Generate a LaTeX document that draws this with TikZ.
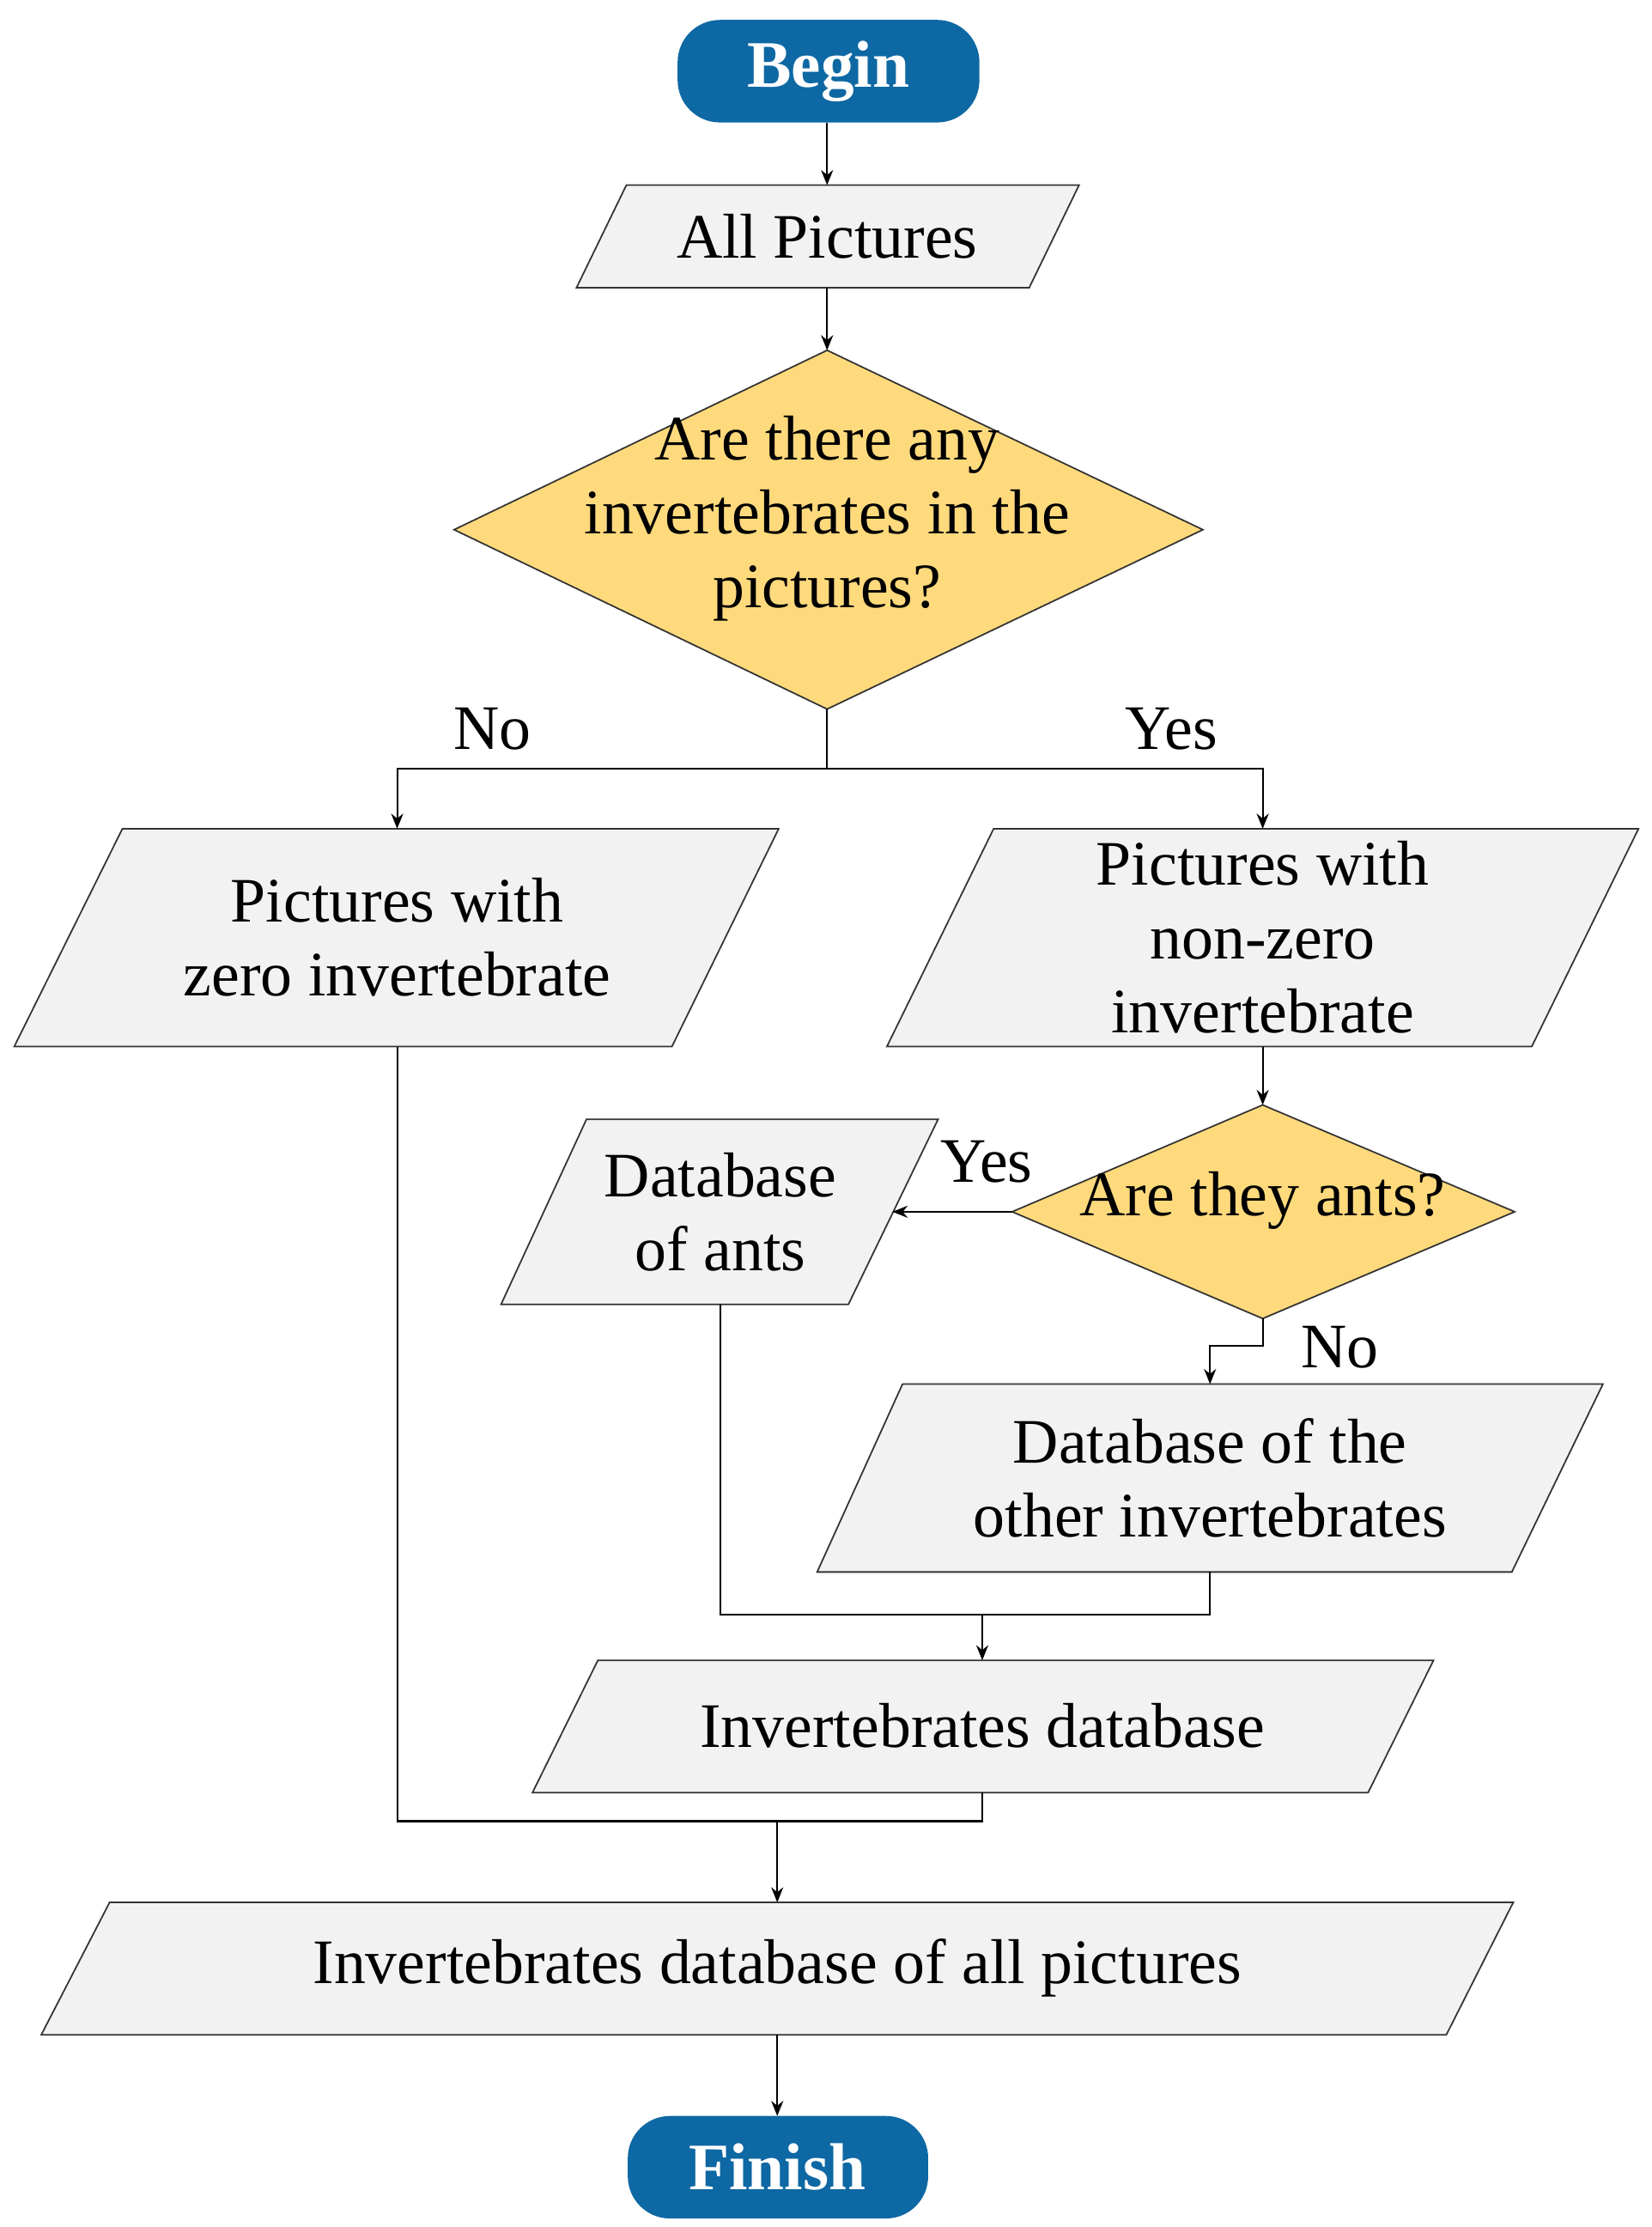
\documentclass[tikz,border=0pt]{standalone}
\usetikzlibrary{arrows.meta}
\usepackage{fontspec}
\setmainfont{Liberation Serif}
\definecolor{termblue}{RGB}{14,104,163}
\definecolor{decyellow}{RGB}{255,218,125}
\definecolor{paragray}{RGB}{242,242,242}

\tikzset{
  box/.style={draw=black!80, fill=paragray, line width=0.5pt},
  dec/.style={draw=black!80, fill=decyellow, line width=0.5pt},
  term/.style={fill=termblue, rounded corners=14pt},
  txt/.style={align=center, font=\fontsize{21}{24.5}\selectfont},
  flow/.style={-{Stealth[length=5pt,width=4pt]}, line width=0.6pt},
  link/.style={line width=0.6pt}
}

\begin{document}
\begin{tikzpicture}[x=0.01658cm, y=-0.01658cm]
\useasboundingbox (0,0) rectangle (1160,1564);

% terminals
\fill[term] (476,14) rectangle (688,86);
\node[txt, text=white, font=\fontsize{22}{26}\bfseries] (begin) at (582,50) {Begin};
\fill[term] (441,1486) rectangle (652,1558);
\node[txt, text=white, font=\fontsize{22}{26}\bfseries] (finish) at (546,1522) {Finish};

% data boxes
\draw[box] (440,130) -- (758,130) -- (723,202) -- (405,202) -- cycle;
\node[txt] (all) at (581,166) {All Pictures};
\draw[box] (86,582) -- (547,582) -- (472,735) -- (10,735) -- cycle;
\node[txt] (zero) at (279,658) {Pictures with\\zero invertebrate};
\draw[box] (698,582) -- (1151,582) -- (1076,735) -- (623,735) -- cycle;
\node[txt] (nonzero) at (887,658) {Pictures with\\non-zero\\invertebrate};
\draw[box] (412,786) -- (659,786) -- (596,916) -- (352,916) -- cycle;
\node[txt] (ants) at (506,851) {Database\\of ants};
\draw[box] (634,972) -- (1126,972) -- (1062,1104) -- (574,1104) -- cycle;
\node[txt] (other) at (850,1038) {Database of the\\other invertebrates};
\draw[box] (420,1166) -- (1007,1166) -- (961,1259) -- (374,1259) -- cycle;
\node[txt] (invdb) at (690,1212) {Invertebrates database};
\draw[box] (77,1336) -- (1063,1336) -- (1016,1429) -- (29,1429) -- cycle;
\node[txt] (alldb) at (546,1382) {Invertebrates database of all pictures};

% decisions
\draw[dec] (581,246) -- (845,372) -- (581,498) -- (319,372) -- cycle;
\node[txt] (any) at (581,364) {Are there any\\invertebrates in the\\pictures?};
\draw[dec] (887,776) -- (1064,851) -- (887,926) -- (711,851) -- cycle;
\node[txt] (isant) at (887,843) {Are they ants?};

% connectors
\coordinate (bB) at (581,86);
\coordinate (allT) at (581,130);
\coordinate (allB) at (581,202);
\coordinate (anyT) at (581,246);
\coordinate (anyB) at (581,498);
\coordinate (zeroT) at (279,582);
\coordinate (zeroB) at (279,735);
\coordinate (nzT) at (887,582);
\coordinate (nzB) at (887,735);
\coordinate (isT) at (887,776);
\coordinate (isL) at (711,851);
\coordinate (isB) at (887,926);
\coordinate (antsR) at (627,851);
\coordinate (antsB) at (506,916);
\coordinate (otherT) at (850,972);
\coordinate (otherB) at (850,1104);
\coordinate (invT) at (690,1166);
\coordinate (invB) at (690,1259);
\coordinate (alldbT) at (546,1336);
\coordinate (alldbB) at (546,1429);
\coordinate (finT) at (546,1486);

\draw[flow] (bB) -- (allT);
\draw[flow] (allB) -- (anyT);
\draw[link] (anyB) -- (581,540);
\draw[flow] (581,540) -| (zeroT);
\draw[flow] (581,540) -| (nzT);
\draw[flow] (nzB) -- (isT);
\draw[flow] (isL) -- (antsR);
\draw[flow] (isB) -- (887,945) -| (otherT);
\draw[link] (antsB) |- (otherB |- 0,1134) -- (otherB);
\draw[flow] (690,1134) -- (invT);
\draw[link] (zeroB) |- (690,1279) -- (invB);
\draw[flow] (546,1279) -- (alldbT);
\draw[flow] (alldbB) -- (finT);

% branch labels
\node[txt] (no1) at (346,512) {No};
\node[txt] (yes1) at (823,512) {Yes};
\node[txt] (yes2) at (693,816) {Yes};
\node[txt] (no2) at (941,946) {No};
\end{tikzpicture}
\end{document}
